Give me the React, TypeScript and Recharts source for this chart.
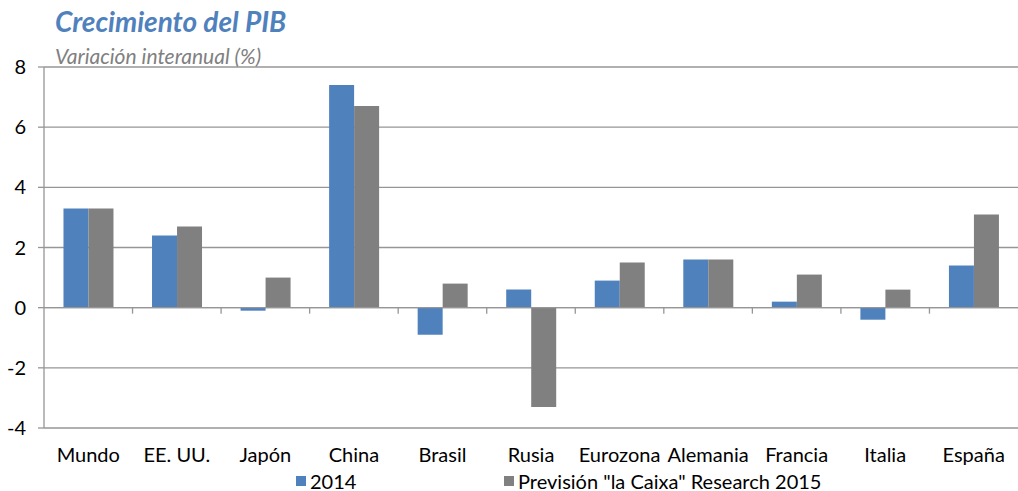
import React from "react";
import {
  BarChart,
  Bar,
  XAxis,
  YAxis,
  CartesianGrid,
  ReferenceLine,
} from "recharts";

const categories = [
  "Mundo",
  "EE. UU.",
  "Japón",
  "China",
  "Brasil",
  "Rusia",
  "Eurozona",
  "Alemania",
  "Francia",
  "Italia",
  "España",
];
const values2014 = [3.3, 2.4, -0.1, 7.4, -0.9, 0.6, 0.9, 1.6, 0.2, -0.4, 1.4];
const values2015 = [3.3, 2.7, 1.0, 6.7, 0.8, -3.3, 1.5, 1.6, 1.1, 0.6, 3.1];
const seriesNames = ["2014", 'Previsión "la Caixa" Research 2015'];
const seriesColors = ["#4f81bd", "#808080"];
const yTicks = [-4, -2, 0, 2, 4, 6, 8];

const data = categories.map((name, i) => ({
  name,
  a: values2014[i],
  b: values2015[i],
}));

const FONT = "Lato, 'DejaVu Sans', sans-serif";
const GRID = "#969696";

// zero line with small tick marks between categories
const ZeroLine = (props: any) => {
  const { x1, x2, y1 } = props;
  const step = (x2 - x1) / categories.length;
  const marks = [];
  for (let i = 1; i < categories.length; i++) {
    const x = x1 + step * i;
    marks.push(<line key={i} x1={x} x2={x} y1={y1} y2={y1 + 6} stroke={GRID} strokeWidth={1.3} />);
  }
  return (
    <g>
      <line x1={x1} x2={x2} y1={y1} y2={y1} stroke={GRID} strokeWidth={1.3} />
      {marks}
    </g>
  );
};

export default function App() {
  return (
    <div
      style={{
        position: "absolute",
        left: 0,
        top: 0,
        width: 1018,
        height: 491,
        background: "#fff",
        fontFamily: FONT,
      }}
    >
      <div
        style={{
          position: "absolute",
          left: 55,
          top: 5,
          fontSize: 28,
          fontWeight: 700,
          fontStyle: "italic",
          color: "#4f81bd",
          lineHeight: "32px",
        }}
      >
        Crecimiento del PIB
      </div>
      <div
        style={{
          position: "absolute",
          left: 55,
          top: 45,
          fontSize: 21,
          fontStyle: "italic",
          color: "#808080",
          lineHeight: "22px",
        }}
      >
        Variación interanual (%)
      </div>
      <BarChart
        width={1018}
        height={491}
        data={data}
        margin={{ top: 67, right: 0, bottom: 0, left: 0 }}
        barCategoryGap="22%"
        barGap={0}
      >
        <CartesianGrid horizontal vertical={false} stroke={GRID} strokeWidth={1.3} />
        <XAxis
          dataKey="name"
          axisLine={false}
          tickLine={false}
          tickSize={0}
          tickMargin={20}
          interval={0}
          height={63}
          tick={{ fill: "#000", fontSize: 20, fontFamily: FONT }}
        />
        <YAxis
          width={44}
          domain={[-4, 8]}
          ticks={yTicks}
          interval={0}
          axisLine={{ stroke: GRID, strokeWidth: 1.3 }}
          tickLine={{ stroke: GRID, strokeWidth: 1.3 }}
          tickSize={6}
          tickMargin={12}
          tick={{ fill: "#000", fontSize: 20, fontFamily: FONT }}
        />
        <ReferenceLine y={0} shape={ZeroLine} />
        <Bar dataKey="a" name={seriesNames[0]} fill={seriesColors[0]} isAnimationActive={false} />
        <Bar dataKey="b" name={seriesNames[1]} fill={seriesColors[1]} isAnimationActive={false} />
      </BarChart>
      <div
        style={{
          position: "absolute",
          top: 470,
          left: 0,
          width: 1018,
          fontSize: 20,
          lineHeight: "22px",
        }}
      >
        {seriesNames.map((n, i) => (
          <div
            key={n}
            style={{
              position: "absolute",
              left: i === 0 ? 296 : 504,
              top: 0,
              display: "flex",
              alignItems: "center",
              whiteSpace: "nowrap",
            }}
          >
            <span
              style={{
                display: "inline-block",
                width: 10,
                height: 10,
                background: seriesColors[i],
                marginRight: 4,
              }}
            />
            {n}
          </div>
        ))}
      </div>
    </div>
  );
}
